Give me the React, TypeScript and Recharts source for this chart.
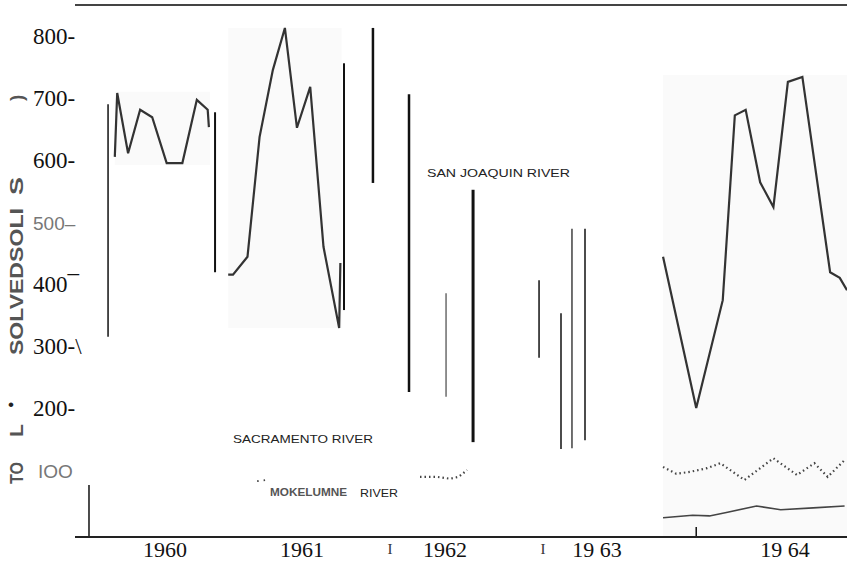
import React from 'react';
import {
  ComposedChart,
  Line,
  XAxis,
  YAxis,
  ReferenceLine,
  ReferenceArea,
} from 'recharts';

// x = months from the left edge of the time axis, y = total dissolved solids
const months1960 = [3.3, 3.5, 4.4, 5.4, 6.4, 7.6, 8.9, 10.1, 11.0, 11.1];
const tds1960 = [605, 708, 611, 681, 669, 595, 595, 697, 681, 653];

const months1961 = [12.7, 13.1, 14.3, 15.3, 16.4, 17.4, 18.4, 19.5, 20.6, 21.9, 22.0];
const tds1961 = [415, 415, 444, 637, 745, 813, 652, 718, 460, 329, 434];

const months1964 = [48.75, 51.5, 53.7, 54.7, 55.6, 56.8, 57.9, 59.1, 60.3, 62.6, 63.4, 64.0];
const tds1964 = [444, 200, 374, 672, 681, 564, 524, 726, 734, 419, 410, 390];

const monthsSac1964 = [48.75, 49.85, 50.98, 52.4, 53.5, 55.5, 57.9, 59.85, 61.3, 62.4, 63.8];
const tdsSac1964 = [105, 94, 97, 103, 111, 84, 119, 92, 111, 89, 116];

const monthsMok1964 = [48.75, 51.2, 52.6, 54.1, 56.5, 58.5, 61.2, 63.8];
const tdsMok1964 = [23, 27, 26, 32, 42, 36, 39, 42];

const monthsSac1962 = [28.6, 30.0, 31.1, 31.8, 32.2, 32.5];
const tdsSac1962 = [89, 89, 86, 89, 95, 100];

const monthsMok1961 = [15.1, 15.9, 16.0];
const tdsMok1961 = [82, 84, 87];

// vertical range strokes: month, low, high
const rangeMonths = [2.74, 11.61, 22.3, 24.7, 27.69, 30.76, 33.0, 38.47, 40.29, 41.2, 42.28, 1.16, 51.5];
const rangeLow = [315, 419, 358, 563, 226, 218, 145, 281, 134, 135, 148, -8, -8];
const rangeHigh = [690, 677, 756, 813, 706, 385, 552, 406, 353, 489, 489, 76, 8];
const rangeWeight = [1.5, 2, 2, 2.5, 2.5, 1.3, 3, 1.5, 1.5, 1.2, 1.5, 1.5, 1.5];

const yearTicks = [7.46, 18.82, 26.11, 30.67, 38.8, 43.27, 58.86];
const yearLabels = ['1960', '1961', 'I', '1962', 'I', '19 63', '19 64'];

const tdsTicks = [100, 200, 300, 400, 500, 600, 700, 800];
const tdsLabels = ['IOO', '200-', '300-\\', '400\u00af', '500\u2013', '600-', '700-', '800-'];

const toRows = (xs: number[], ys: number[]) => xs.map((x, i) => ({ x, y: ys[i] }));

const SERIF = '"Liberation Serif", "Times New Roman", serif';
const SANS = '"Liberation Sans", Arial, sans-serif';

function TdsTick(props: any) {
  const { y, payload } = props;
  const i = tdsTicks.indexOf(payload.value);
  const label = tdsLabels[i];
  const gray = payload.value === 100 || payload.value === 500;
  return (
    <text
      x={payload.value === 100 ? 38 : 33}
      y={y + 8}
      textAnchor="start"
      fontFamily={gray ? SANS : SERIF}
      fontSize={gray ? 19 : 23}
      fill={gray ? '#777' : '#111'}
    >
      {label}
    </text>
  );
}

function YearTick(props: any) {
  const { x, payload } = props;
  const i = yearTicks.indexOf(payload.value);
  const label = yearLabels[i];
  if (label === 'I') {
    return (
      <text x={x} y={554} textAnchor="middle" fontFamily={SERIF} fontSize={15} fill="#333">
        I
      </text>
    );
  }
  return (
    <text x={x} y={557} textAnchor="middle" fontFamily={SERIF} fontSize={22} fill="#111">
      {label}
    </text>
  );
}

function Rotated({ x, y, len, children }: { x: number; y: number; len?: number; children: string }) {
  return (
    <text
      x={x}
      y={y}
      transform={`rotate(-90 ${x} ${y})`}
      fontFamily={SANS}
      fontSize={19}
      fontWeight="bold"
      fill="#555"
      textLength={len}
      lengthAdjust={len ? 'spacingAndGlyphs' : undefined}
    >
      {children}
    </text>
  );
}

export default function App() {
  return (
    <div style={{ position: 'absolute', left: 0, top: 0, width: 847, height: 563, background: '#fff' }}>
      <ComposedChart width={847} height={563} margin={{ top: 5, right: 0, bottom: 0, left: 0 }}>
        <XAxis
          type="number"
          dataKey="x"
          domain={[0, 64]}
          allowDataOverflow
          ticks={yearTicks}
          tick={<YearTick />}
          tickLine={false}
          height={26}
          axisLine={{ stroke: '#222', strokeWidth: 2 }}
        />
        <YAxis
          type="number"
          domain={[-8, 850]}
          allowDataOverflow
          ticks={tdsTicks}
          tick={<TdsTick />}
          tickLine={false}
          axisLine={false}
          width={75}
        />
        <ReferenceArea x1={3.3} x2={11.2} y1={592} y2={710} fill="#fafafa" fillOpacity={1} stroke="none" />
        <ReferenceArea x1={12.7} x2={22.1} y1={329} y2={813} fill="#fafafa" fillOpacity={1} stroke="none" />
        <ReferenceArea x1={48.75} x2={64} y1={-8} y2={737} fill="#fafafa" fillOpacity={1} stroke="none" />
        <ReferenceLine y={850} stroke="#444" strokeWidth={2} />
        {rangeMonths.map((m, i) => (
          <ReferenceLine
            key={i}
            segment={[
              { x: m, y: rangeLow[i] },
              { x: m, y: rangeHigh[i] },
            ]}
            stroke={i === 5 ? '#555' : '#111'}
            strokeWidth={rangeWeight[i]}
          />
        ))}
        <Line data={toRows(months1960, tds1960)} dataKey="y" stroke="#333" strokeWidth={2.2} dot={false} isAnimationActive={false} />
        <Line data={toRows(months1961, tds1961)} dataKey="y" stroke="#333" strokeWidth={2.2} dot={false} isAnimationActive={false} />
        <Line data={toRows(months1964, tds1964)} dataKey="y" stroke="#333" strokeWidth={2.2} dot={false} isAnimationActive={false} />
        <Line data={toRows(monthsSac1964, tdsSac1964)} dataKey="y" stroke="#444" strokeWidth={2.2} strokeDasharray="1.5 3" dot={false} isAnimationActive={false} />
        <Line data={toRows(monthsMok1964, tdsMok1964)} dataKey="y" stroke="#444" strokeWidth={1.6} dot={false} isAnimationActive={false} />
        <Line data={toRows(monthsSac1962, tdsSac1962)} dataKey="y" stroke="#444" strokeWidth={2.2} strokeDasharray="1.5 3" dot={false} isAnimationActive={false} />
        <Line data={toRows(monthsMok1961, tdsMok1961)} dataKey="y" stroke="#444" strokeWidth={1.8} strokeDasharray="1.5 5" dot={false} isAnimationActive={false} />
      </ComposedChart>
      <svg width={847} height={563} style={{ position: 'absolute', left: 0, top: 0, pointerEvents: 'none' }}>
        <Rotated x={23} y={101}>)</Rotated>
        <Rotated x={23} y={195} len={18}>S</Rotated>
        <Rotated x={23} y={262} len={54}>SOLI</Rotated>
        <Rotated x={23} y={355} len={93}>SOLVED</Rotated>
        <Rotated x={23} y={437} len={13}>L</Rotated>
        <Rotated x={23} y={484} len={22}>TO</Rotated>
        <text x={8} y={410} fontFamily={SANS} fontSize={17} fill="#222">•</text>
        <text x={427} y={177} fontFamily={SANS} fontSize={11.5} fill="#222" textLength={143} lengthAdjust="spacingAndGlyphs">
          SAN JOAQUIN RIVER
        </text>
        <text x={233} y={443} fontFamily={SANS} fontSize={11.5} fill="#222" textLength={140} lengthAdjust="spacingAndGlyphs">
          SACRAMENTO RIVER
        </text>
        <text x={270} y={496} fontFamily={SANS} fontSize={11.5} fontWeight="bold" fill="#555" textLength={77} lengthAdjust="spacingAndGlyphs">
          MOKELUMNE
        </text>
        <text x={360} y={497} fontFamily={SANS} fontSize={11.5} fill="#222" textLength={38} lengthAdjust="spacingAndGlyphs">
          RIVER
        </text>
      </svg>
    </div>
  );
}
